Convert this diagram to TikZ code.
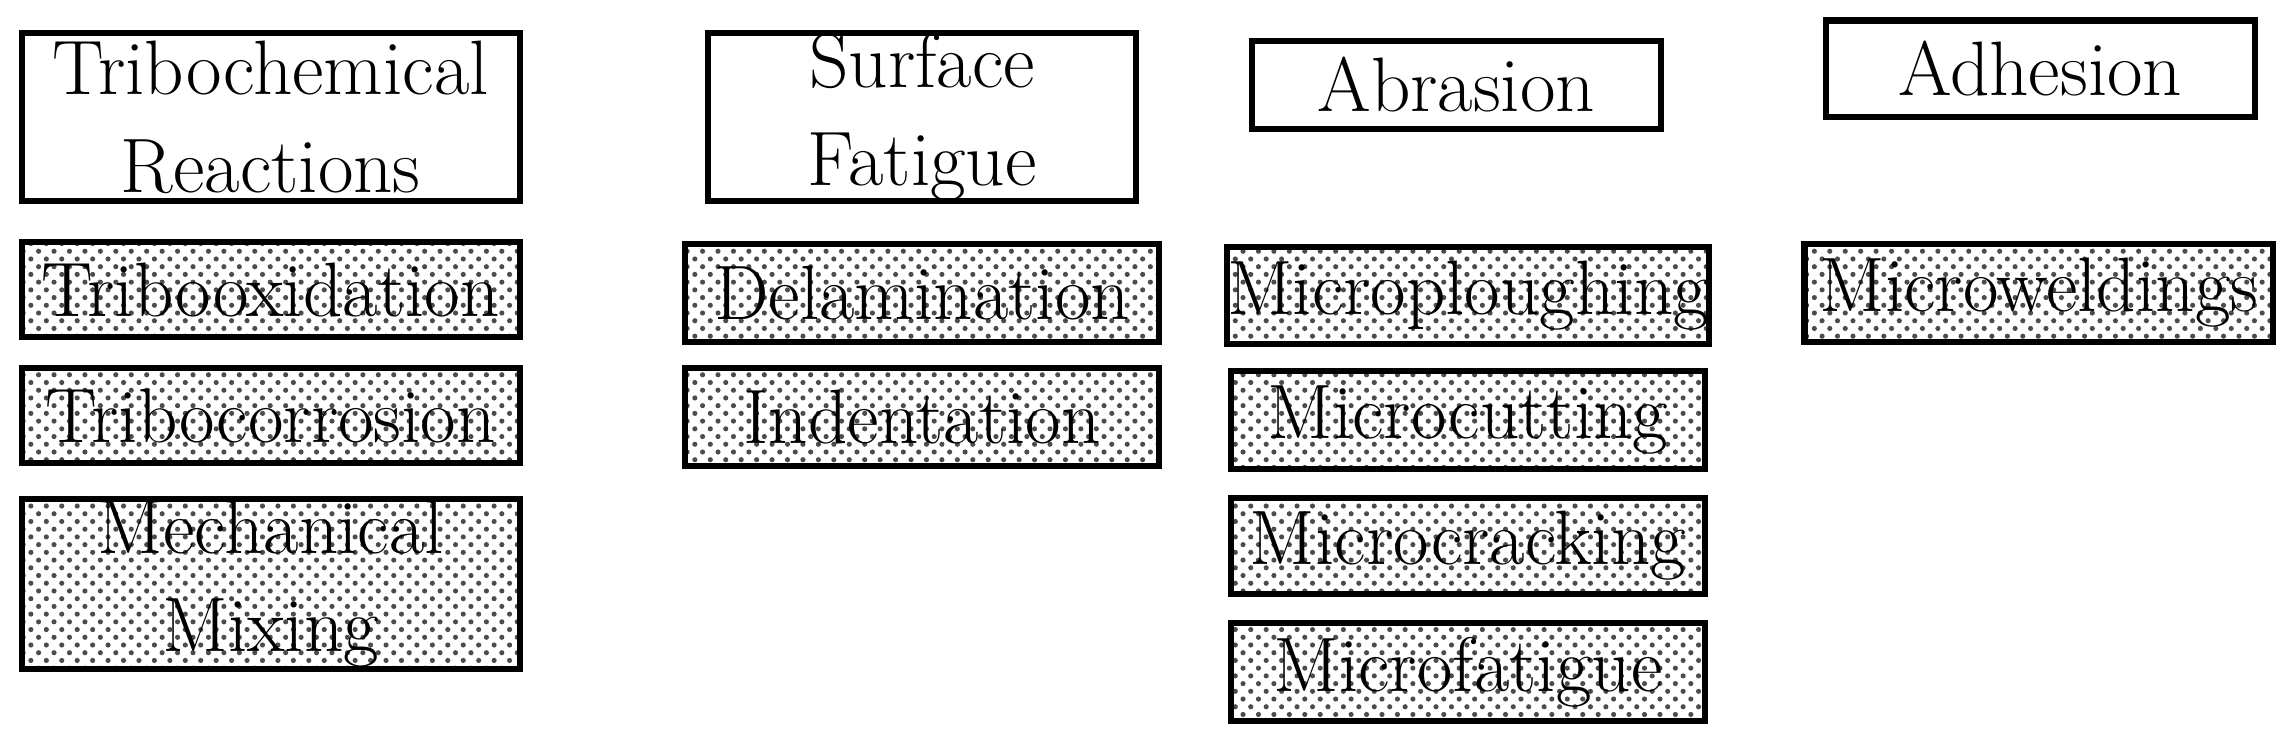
\documentclass[tikz,border=0pt]{standalone}
\usepackage{tikz}
\usetikzlibrary{patterns}

\begin{document}
\begin{tikzpicture}[x=0.01cm,y=-0.01cm,
  head/.style={rectangle, draw=black, very thick, fill=white, align=center, inner sep=0pt, font=\fontsize{15}{19}\selectfont},
  mech/.style={rectangle, draw=black, very thick, pattern=crosshatch dots, pattern color=black!70, align=center, inner sep=0pt, font=\fontsize{15}{19}\selectfont}]
\useasboundingbox (0,0) rectangle (1568,504);
% main mechanisms
\node[head, minimum width=3.4cm, minimum height=1.15cm] (trib) at (185,80) {Tribochemical\\Reactions};
\node[head, minimum width=2.92cm, minimum height=1.15cm] (fat) at (630,80) {Surface\\Fatigue};
\node[head, minimum width=2.79cm, minimum height=0.6cm] (abr) at (995,58) {Abrasion};
\node[head, minimum width=2.93cm, minimum height=0.66cm] (adh) at (1394,47) {Adhesion};
% tribochemical reactions
\node[mech, minimum width=3.4cm, minimum height=0.65cm] (tox) at (185,198) {Tribooxidation};
\node[mech, minimum width=3.4cm, minimum height=0.65cm] (tcor) at (185,284) {Tribocorrosion};
\node[mech, minimum width=3.4cm, minimum height=1.16cm] (mix) at (185,399) {Mechanical\\Mixing};
% surface fatigue
\node[mech, minimum width=3.24cm, minimum height=0.67cm] (dela) at (630,200) {Delamination};
\node[mech, minimum width=3.24cm, minimum height=0.67cm] (inde) at (630,285) {Indentation};
% abrasion
\node[mech, minimum width=3.24cm, minimum height=0.66cm] (mplo) at (1003,202) {Microploughing};
\node[mech, minimum width=3.24cm, minimum height=0.67cm] (mcut) at (1003,287) {Microcutting};
\node[mech, minimum width=3.24cm, minimum height=0.66cm] (mcra) at (1003,373) {Microcracking};
\node[mech, minimum width=3.24cm, minimum height=0.67cm] (mfat) at (1003,459) {Microfatigue};
% adhesion
\node[mech, minimum width=3.2cm, minimum height=0.67cm] (mwel) at (1393,200) {Microweldings};
\end{tikzpicture}
\end{document}
